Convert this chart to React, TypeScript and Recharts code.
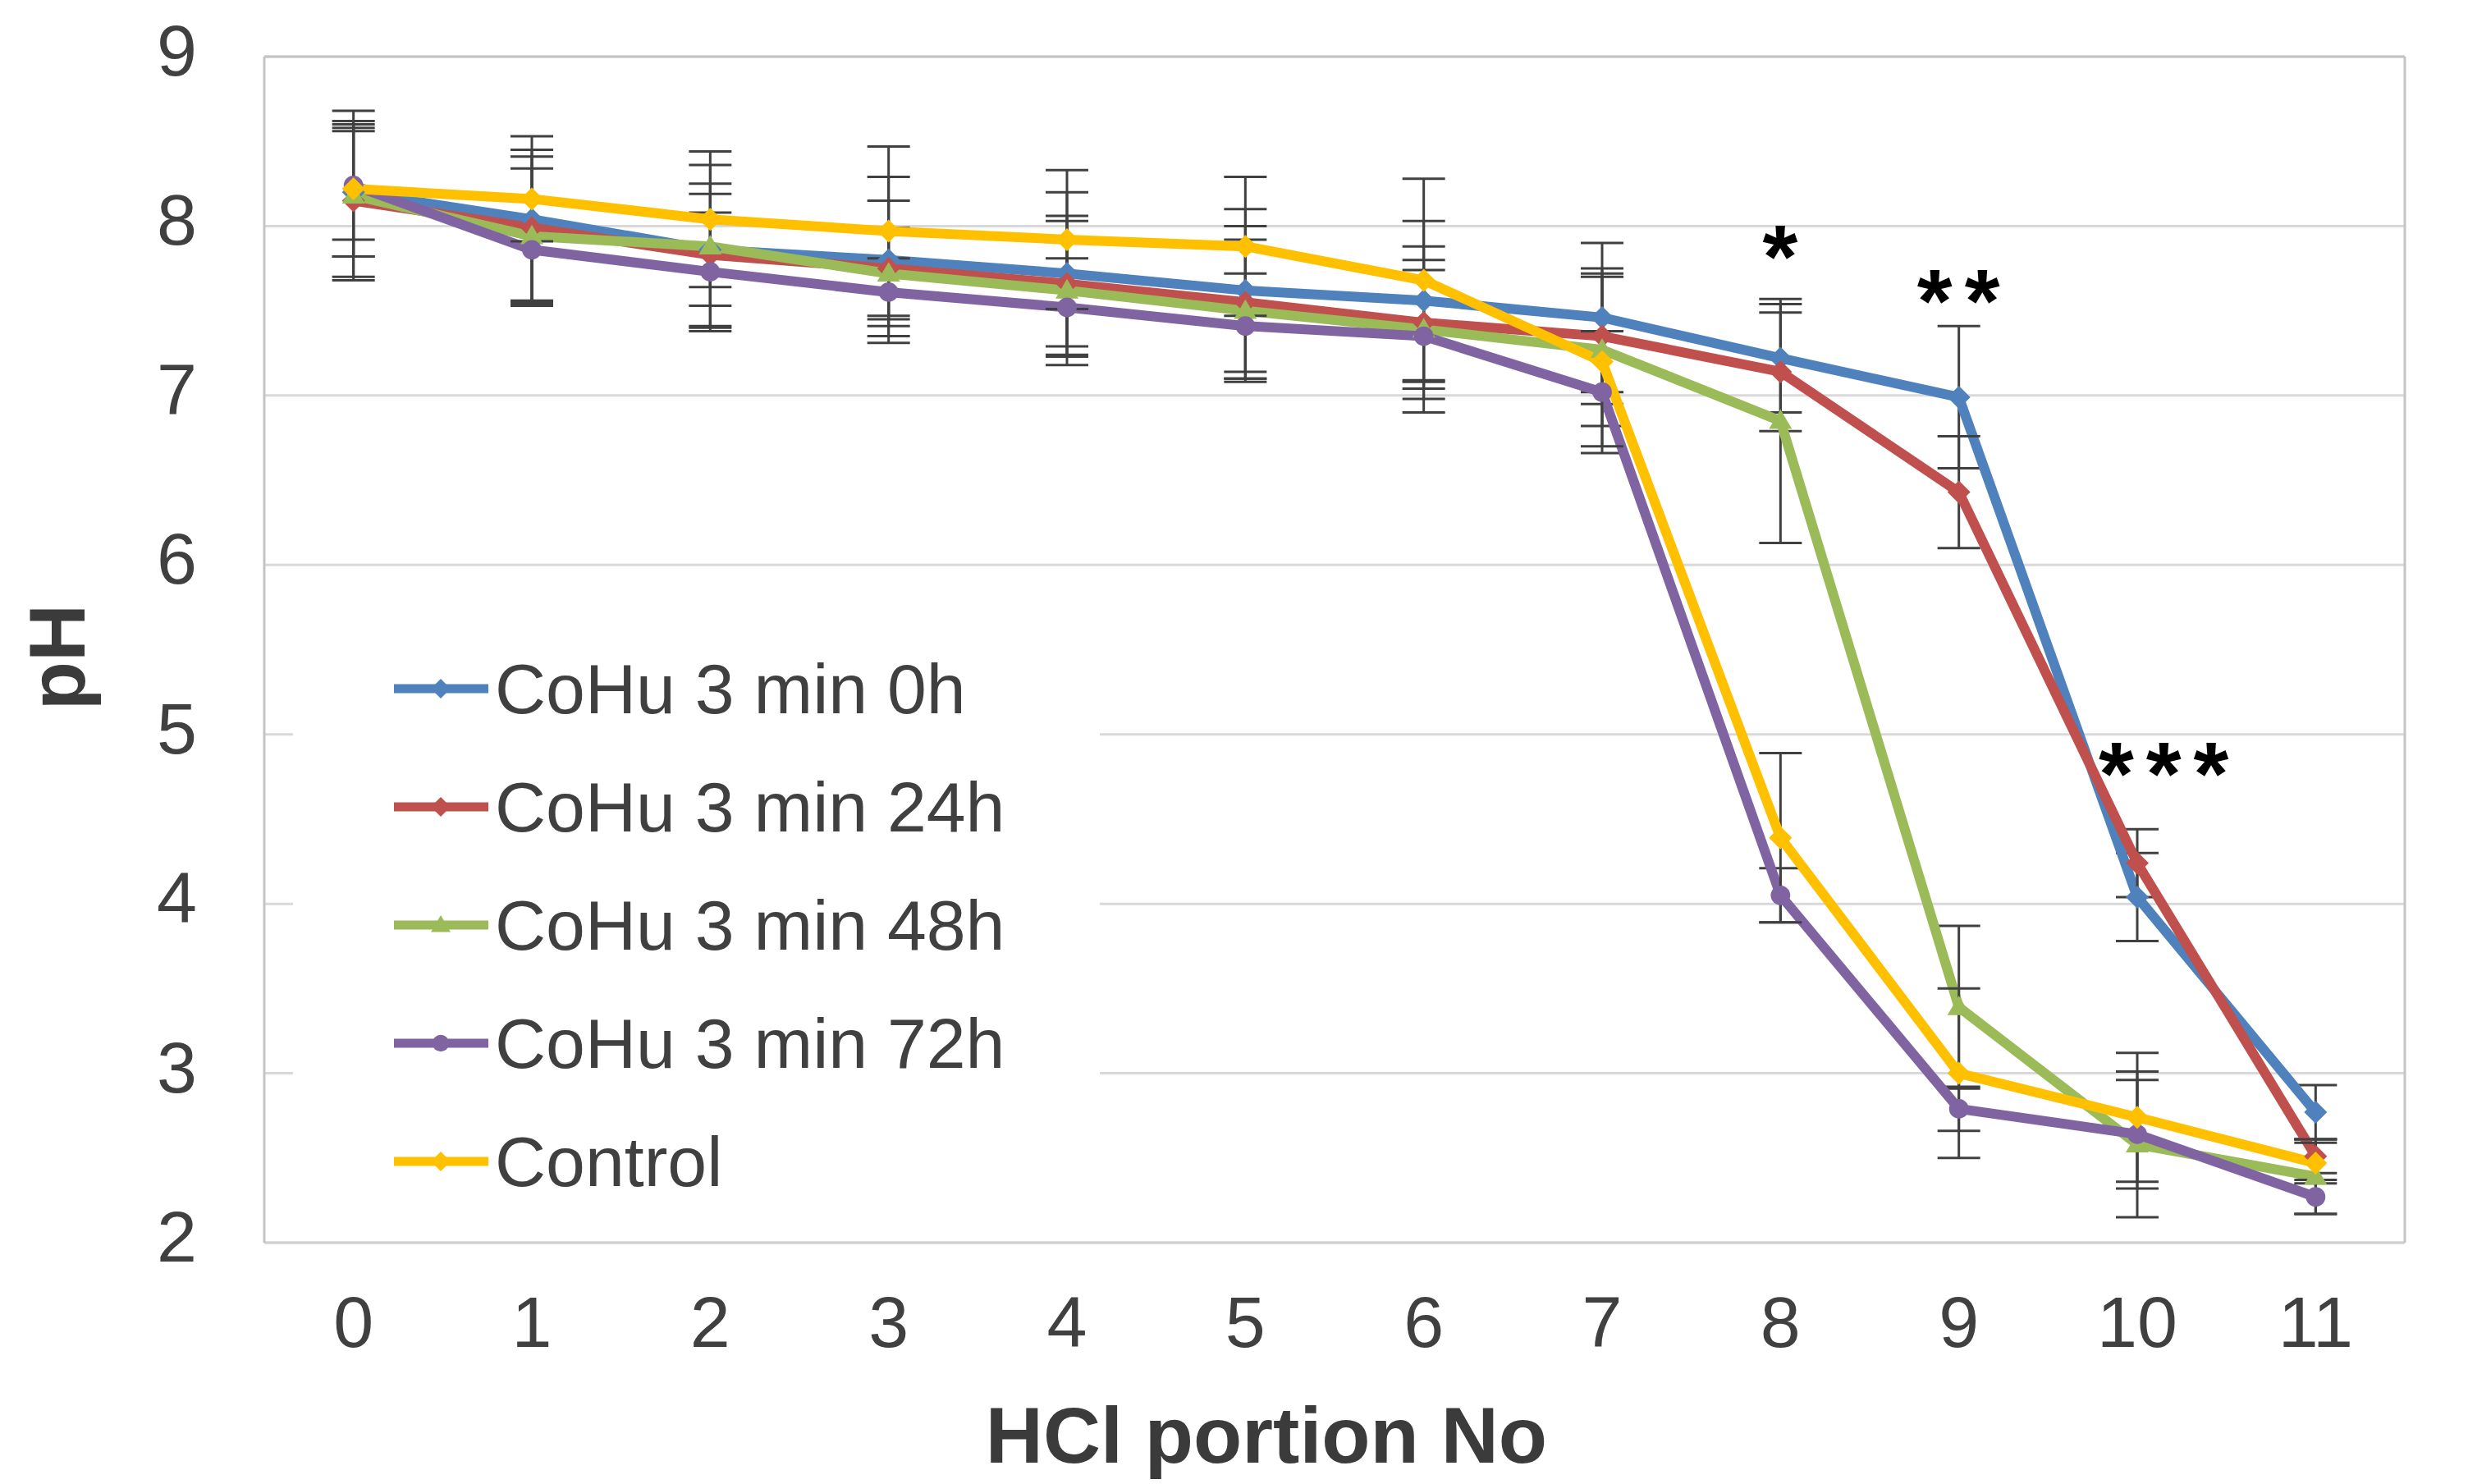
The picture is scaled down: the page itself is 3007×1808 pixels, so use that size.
import React from 'react';
import {
  LineChart,
  Line,
  XAxis,
  YAxis,
  CartesianGrid,
  ErrorBar,
  ReferenceLine,
  ReferenceDot,
  Legend,
  Label,
} from 'recharts';

const FONT = '"Liberation Sans", Arial, sans-serif';

// HCl portion number (x) and pH axis ticks
const portions = [0, 1, 2, 3, 4, 5, 6, 7, 8, 9, 10, 11];
const yTicks = [2, 3, 4, 5, 6, 7, 8, 9];

const seriesNames = ['CoHu 3 min 0h', 'CoHu 3 min 24h', 'CoHu 3 min 48h', 'CoHu 3 min 72h', 'Control'];

// mean pH per portion
const cohu0h = [8.2, 8.04, 7.86, 7.8, 7.72, 7.62, 7.56, 7.46, 7.22, 6.99, 4.04, 2.77];
const cohu24h = [8.15, 7.99, 7.83, 7.75, 7.66, 7.55, 7.43, 7.35, 7.14, 6.43, 4.24, 2.51];
const cohu48h = [8.18, 7.94, 7.88, 7.72, 7.62, 7.5, 7.39, 7.27, 6.85, 3.39, 2.58, 2.39];
const cohu72h = [8.24, 7.86, 7.73, 7.61, 7.52, 7.41, 7.35, 7.02, 4.05, 2.79, 2.64, 2.27];
const control = [8.22, 8.16, 8.04, 7.97, 7.92, 7.88, 7.68, 7.2, 4.39, 3.0, 2.74, 2.47];

// standard deviations (error bars)
const err0h = [0.38, 0.49, 0.33, 0.49, 0.48, 0.48, 0.47, 0.44, 0.32, 0.42, 0.26, 0.16];
const err24h = [0.45, 0.46, 0.42, 0.4, 0.37, 0.45, 0.45, 0.4, 0.35, 0.33, 0.2, 0.1];
const err48h = [0.5, 0.4, 0.48, 0.27, 0.44, 0.42, 0.35, 0.45, 0.72, 0.48, 0.43, 0.22];
const err72h = [0.32, 0.3, 0.35, 0.2, 0.29, 0.31, 0.45, 0.36, 0.16, 0.13, 0.32, 0.1];
const errControl = [0.4, 0.25, 0.4, 0.5, 0.41, 0.41, 0.6, 0.5, 0.5, 0.5, 0.38, 0.12];

// significance marks
const sigLabels = ['*', '**', '***'];
const sigX = [8, 9, 10.15];
const sigY = [7.89, 7.63, 4.84];

const colors = ['#4F81BD', '#C0504D', '#9BBB59', '#8064A2', '#FFC000'];
const markers = ['diamond', 'diamond', 'triangle', 'circle', 'diamond'];

const means = [cohu0h, cohu24h, cohu48h, cohu72h, control];
const errs = [err0h, err24h, err48h, err72h, errControl];

const data = portions.map((x, i) => {
  const row: Record<string, number> = { x };
  means.forEach((m, s) => {
    row['v' + s] = m[i];
    row['e' + s] = errs[s][i];
  });
  return row;
});

function Marker({ cx, cy, color, shape, s = 14 }: any) {
  if (cx == null || cy == null) return null;
  if (shape === 'circle') return <circle cx={cx} cy={cy} r={s * 0.85} fill={color} />;
  if (shape === 'triangle')
    return (
      <polygon
        points={`${cx},${cy - s} ${cx + s},${cy + s * 0.7} ${cx - s},${cy + s * 0.7}`}
        fill={color}
      />
    );
  return (
    <polygon points={`${cx},${cy - s} ${cx + s},${cy} ${cx},${cy + s} ${cx - s},${cy}`} fill={color} />
  );
}

const YTick = ({ x, y, payload }: any) => (
  <text x={x} y={y + 23} textAnchor="end" fontSize={88} fill="#404040" fontFamily={FONT}>
    {payload.value}
  </text>
);

const XTick = ({ x, y, payload }: any) => (
  <text x={x} y={y + 127} textAnchor="middle" fontSize={88} fill="#404040" fontFamily={FONT}>
    {payload.value}
  </text>
);

const renderLegend = (props: any) => {
  const payload = props.payload || [];
  return (
    <div style={{ width: 983, height: 720, background: '#fff', fontFamily: FONT }}>
      {payload.map((entry: any) => {
        const idx = seriesNames.indexOf(entry.value);
        return (
          <div key={entry.value} style={{ height: 144, display: 'flex', alignItems: 'center' }}>
            <svg width={115} height={30} style={{ marginLeft: 123 }}>
              <line x1={0} y1={15} x2={115} y2={15} stroke={colors[idx]} strokeWidth={11} />
              <Marker cx={57} cy={15} color={colors[idx]} shape={markers[idx]} s={12} />
            </svg>
            <span style={{ marginLeft: 8, fontSize: 86, lineHeight: 1, color: '#404040' }}>{entry.value}</span>
          </div>
        );
      })}
    </div>
  );
};

export default function App() {
  return (
    <div style={{ width: 3007, height: 1808, position: 'relative', background: '#fff' }}>
      <style>{`body { margin: 0; }`}</style>
      <LineChart width={3007} height={1808} data={data} margin={{ top: 69, right: 77, bottom: 0, left: 22 }}>
        <CartesianGrid vertical={false} stroke="#D9D9D9" strokeWidth={3} />
        <XAxis
          type="number"
          dataKey="x"
          domain={[-0.5, 11.5]}
          ticks={portions}
          interval={0}
          height={294}
          axisLine={false}
          tickLine={false}
          tickSize={0}
          tickMargin={0}
          tick={<XTick />}
        >
          <Label
            content={({ viewBox }: any) => (
              <text
                x={viewBox.x + viewBox.width / 2 - 83}
                y={viewBox.y + 268}
                textAnchor="middle"
                fontSize={97}
                fontWeight="bold"
                fill="#3b3b3b"
                fontFamily={FONT}
              >
                HCl portion No
              </text>
            )}
          />
        </XAxis>
        <YAxis
          type="number"
          domain={[2, 9]}
          ticks={yTicks}
          width={300}
          axisLine={false}
          tickLine={false}
          tickSize={0}
          tickMargin={82}
          tick={<YTick />}
        >
          <Label
            content={({ viewBox }: any) => {
              const tx = viewBox.x + 81;
              const ty = viewBox.y + viewBox.height / 2 + 9;
              return (
                <text
                  x={tx}
                  y={ty}
                  transform={`rotate(-90 ${tx} ${ty})`}
                  textAnchor="middle"
                  fontSize={97}
                  fontWeight="bold"
                  fill="#3b3b3b"
                  fontFamily={FONT}
                >
                  pH
                </text>
              );
            }}
          />
        </YAxis>
        <ReferenceLine y={9} stroke="#C4C4C4" strokeWidth={3} />
        <ReferenceLine y={2} stroke="#D0D0D0" strokeWidth={3} />
        <ReferenceLine x={-0.5} stroke="#C4C4C4" strokeWidth={3} />
        <ReferenceLine x={11.5} stroke="#C4C4C4" strokeWidth={3} />
        {seriesNames.map((name, s) => (
          <Line
            key={name}
            name={name}
            dataKey={'v' + s}
            stroke={colors[s]}
            strokeWidth={12}
            isAnimationActive={false}
            activeDot={false}
            dot={(p: any) => (
              <Marker key={`m${s}-${p.index}`} cx={p.cx} cy={p.cy} color={colors[s]} shape={markers[s]} />
            )}
          >
            <ErrorBar
              dataKey={'e' + s}
              direction="y"
              width={26}
              strokeWidth={3}
              stroke="#404040"
              isAnimationActive={false}
            />
          </Line>
        ))}
        {sigLabels.map((t, i) => (
          <ReferenceDot
            key={t}
            x={sigX[i]}
            y={sigY[i]}
            r={1}
            fill="none"
            stroke="none"
            label={{
              content: ({ viewBox }: any) => (
                <text
                  x={viewBox.x + viewBox.width / 2 + 7}
                  y={viewBox.y + viewBox.height / 2 + 52}
                  textAnchor="middle"
                  fontSize={110}
                  fontWeight="bold"
                  letterSpacing={15}
                  fill="#000"
                  fontFamily={FONT}
                >
                  {t}
                </text>
              ),
            }}
          />
        ))}
        <Legend
          layout="horizontal"
          verticalAlign="middle"
          align="center"
          width={983}
          height={720}
          wrapperStyle={{ left: 357, top: 767, width: 983, height: 720 }}
          content={renderLegend}
        />
      </LineChart>
    </div>
  );
}
